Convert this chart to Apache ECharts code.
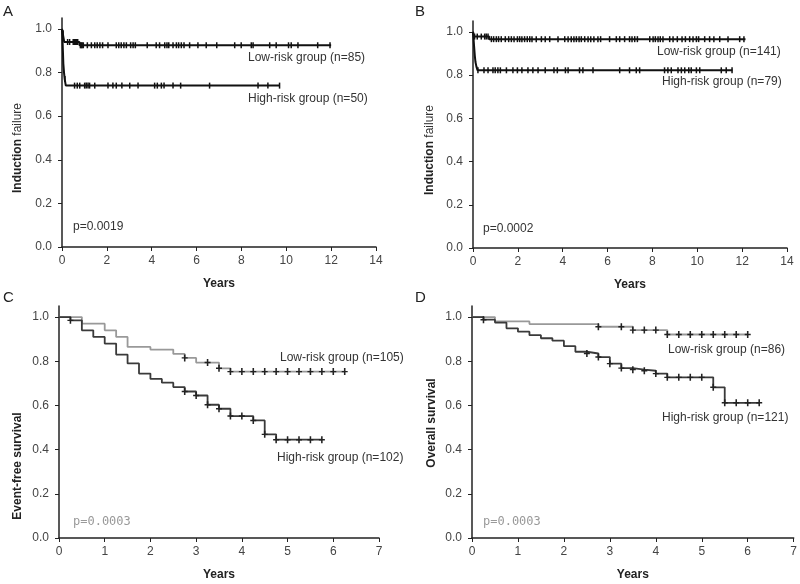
<!DOCTYPE html>
<html>
<head>
<meta charset="utf-8">
<script src="https://cdn.jsdelivr.net/npm/echarts@6/dist/echarts.min.js"></script>
<style>
  html, body { margin: 0; padding: 0; background: #fff; }
  #chart { width: 800px; height: 584px; }
</style>
</head>
<body>
<div id="chart"></div>
<script>
// ---- data ----
// panel A: induction failure
const aLowTimes = [0, 0.03, 0.1, 0.78, 12.0];
const aLowSurv = [1.0, 0.98, 0.94, 0.925, 0.925];
const aLowCensor = [0.05, 0.25, 0.34, 0.5, 0.55, 0.6, 0.65, 0.7, 0.82, 0.86, 0.9, 0.95, 1.13, 1.31, 1.46, 1.57, 1.69, 1.81, 2.05, 2.42, 2.53, 2.64, 2.76, 2.87, 3.06, 3.17, 3.27, 3.8, 4.2, 4.35, 4.58, 4.68, 4.76, 4.95, 5.1, 5.2, 5.32, 5.44, 5.69, 6.06, 6.43, 6.9, 7.7, 7.99, 8.44, 8.52, 9.26, 9.55, 10.1, 10.22, 10.52, 11.4, 11.95];
const aHighTimes = [0, 0.02, 0.04, 0.06, 0.09, 0.12, 0.17, 9.72];
const aHighSurv = [1.0, 0.96, 0.9, 0.84, 0.8, 0.77, 0.74, 0.74];
const aHighCensor = [0.13, 0.56, 0.68, 0.79, 1.01, 1.08, 1.16, 1.23, 1.46, 2.05, 2.27, 2.42, 2.67, 3.02, 3.39, 4.13, 4.25, 4.43, 4.55, 4.95, 5.29, 6.58, 8.74, 9.18, 9.7];

// panel B: induction failure
const bLowTimes = [0, 0.04, 0.72, 12.15];
const bLowSurv = [1.0, 0.978, 0.966, 0.966];
const bLowCensor = [0.07, 0.19, 0.37, 0.52, 0.59, 0.67, 0.82, 0.92, 1.04, 1.14, 1.26, 1.44, 1.59, 1.71, 1.83, 1.98, 2.08, 2.18, 2.3, 2.42, 2.53, 2.63, 2.82, 3.05, 3.22, 3.42, 3.79, 4.09, 4.24, 4.38, 4.5, 4.61, 4.73, 4.83, 4.98, 5.13, 5.25, 5.39, 5.57, 5.69, 6.09, 6.39, 6.54, 6.76, 6.98, 7.09, 7.21, 7.33, 7.88, 8.03, 8.13, 8.25, 8.35, 8.47, 8.77, 8.92, 9.11, 9.32, 9.47, 9.66, 9.81, 9.96, 10.06, 10.33, 10.55, 10.74, 11.0, 11.37, 11.89, 12.08];
const bHighTimes = [0, 0.03, 0.05, 0.08, 0.11, 0.15, 0.2, 11.57];
const bHighSurv = [1.0, 0.96, 0.93, 0.89, 0.86, 0.84, 0.822, 0.822];
const bHighCensor = [0.22, 0.49, 0.67, 0.89, 0.99, 1.11, 1.22, 1.49, 1.78, 1.98, 2.18, 2.45, 2.67, 2.9, 3.22, 3.61, 3.76, 4.12, 4.24, 4.75, 4.9, 5.35, 6.54, 6.98, 7.28, 7.43, 8.54, 8.69, 8.84, 9.14, 9.29, 9.44, 9.62, 9.73, 9.96, 10.11, 11.07, 11.29, 11.55];

// panel C: event-free survival
const cLowTimes = [0, 0.5, 1.0, 1.25, 1.5, 2.0, 2.5, 2.75, 3.0, 3.5, 3.75, 6.25];
const cLowSurv = [1.0, 0.97, 0.94, 0.91, 0.865, 0.853, 0.833, 0.815, 0.794, 0.768, 0.753, 0.753];
const cLowCensor = [2.75, 3.25, 3.5, 3.75, 4.0, 4.25, 4.5, 4.75, 5.0, 5.25, 5.5, 5.75, 6.0, 6.25];
const cHighTimes = [0, 0.25, 0.5, 0.75, 1.0, 1.25, 1.5, 1.75, 2.0, 2.25, 2.5, 2.75, 3.0, 3.25, 3.5, 3.75, 4.25, 4.5, 4.75, 5.75];
const cHighSurv = [1.0, 0.985, 0.94, 0.91, 0.88, 0.83, 0.79, 0.744, 0.72, 0.703, 0.683, 0.663, 0.645, 0.603, 0.585, 0.552, 0.532, 0.469, 0.445, 0.445];
const cHighCensor = [0.25, 2.75, 3.0, 3.25, 3.5, 3.75, 4.0, 4.25, 4.5, 4.75, 5.0, 5.25, 5.5, 5.75];

// panel D: overall survival
const dLowTimes = [0, 0.5, 1.25, 2.75, 3.5, 4.25, 6.0];
const dLowSurv = [1.0, 0.98, 0.968, 0.956, 0.941, 0.921, 0.921];
const dLowCensor = [2.75, 3.25, 3.5, 3.75, 4.0, 4.25, 4.5, 4.75, 5.0, 5.25, 5.5, 5.75, 6.0];
const dHighTimes = [0, 0.25, 0.5, 0.75, 1.0, 1.25, 1.5, 1.75, 2.0, 2.25, 2.5, 2.75, 3.0, 3.25, 3.5, 3.75, 4.0, 4.25, 5.25, 5.5, 6.25];
const dHighSurv = [1.0, 0.988, 0.975, 0.949, 0.934, 0.918, 0.904, 0.893, 0.868, 0.843, 0.835, 0.819, 0.789, 0.769, 0.762, 0.757, 0.744, 0.727, 0.682, 0.612, 0.612];
const dHighCensor = [0.25, 2.5, 2.75, 3.0, 3.25, 3.5, 3.75, 4.0, 4.25, 4.5, 4.75, 5.0, 5.25, 5.5, 5.75, 6.0, 6.25];

const yTicks = [0, 0.2, 0.4, 0.6, 0.8, 1.0];
const xMaxAB = 14, xStepAB = 2;
const xMaxCD = 7, xStepCD = 1;

// ---- helpers ----
const FONT = '"Liberation Sans", Arial, sans-serif';

function km(times, surv) {
  return times.map((t, i) => [t, surv[i]]);
}
function survAt(times, surv, t) {
  let v = surv[0];
  for (let i = 0; i < times.length; i++) {
    if (times[i] <= t) v = surv[i];
  }
  return v;
}
function censorPts(times, surv, cens) {
  return cens.map(t => [t, survAt(times, surv, t)]);
}

const grids = [
  { left: 62, top: 18, width: 314, height: 229 },
  { left: 473, top: 21, width: 314, height: 227 },
  { left: 59, top: 306, width: 320, height: 232 },
  { left: 472, top: 306, width: 322, height: 232 }
];

function xAxisFor(i, max, step) {
  return {
    type: 'value', gridIndex: i, min: 0, max: max, interval: step,
    name: 'Years', nameLocation: 'middle', nameGap: 31,
    nameTextStyle: { fontFamily: FONT, fontSize: 12, fontWeight: 'bold', color: '#222' },
    axisLine: { lineStyle: { color: '#222', width: 1.5 } },
    axisTick: { length: 4, lineStyle: { color: '#222', width: 1 } },
    axisLabel: { margin: 8, fontFamily: FONT, fontSize: 12, color: '#444' },
    splitLine: { show: false }
  };
}
function yAxisFor(i) {
  return {
    type: 'value', gridIndex: i, min: 0, max: 1.05, interval: 0.2,
    axisLine: { show: true, lineStyle: { color: '#222', width: 1.5 } },
    axisTick: { show: true, length: 4, customValues: yTicks, lineStyle: { color: '#222', width: 1 } },
    axisLabel: {
      margin: 10, fontFamily: FONT, fontSize: 12, color: '#444',
      customValues: yTicks,
      formatter: v => v.toFixed(1)
    },
    splitLine: { show: false }
  };
}

const tickMark = 'path://M0,0H2V10H0Z';
const plusMark = 'path://M2,0H3.4V7H2Z M0,2.8H5.4V4.2H0Z';

function curve(i, times, surv, color, w) {
  return {
    type: 'line', xAxisIndex: i, yAxisIndex: i, step: 'end',
    showSymbol: false, data: km(times, surv),
    lineStyle: { color: color, width: w }, silent: true
  };
}
function marks(i, times, surv, cens, symbol, size, color) {
  return {
    type: 'scatter', xAxisIndex: i, yAxisIndex: i,
    symbol: symbol, symbolSize: size,
    itemStyle: { color: color, opacity: 1 },
    data: censorPts(times, surv, cens), silent: true, z: 3
  };
}

function txt(x, y, text, extra) {
  return {
    type: 'text', x: x, y: y, silent: true,
    style: Object.assign({
      text: text, font: '12px ' + FONT, fill: '#333',
      textAlign: 'left', textVerticalAlign: 'middle'
    }, extra || {})
  };
}
function yName(x, y, text, rich) {
  return {
    type: 'text', x: x, y: y, rotation: Math.PI / 2, silent: true,
    style: {
      text: text, font: 'bold 12px ' + FONT, fill: '#222',
      textAlign: 'center', textVerticalAlign: 'middle',
      rich: rich
    }
  };
}

const failRich = {
  b: { fontFamily: FONT, fontSize: 12, fontWeight: 'bold', fill: '#222' },
  n: { fontFamily: FONT, fontSize: 12, fontWeight: 'normal', fill: '#333' }
};
const mono = { font: '12px "DejaVu Sans Mono", monospace', fill: '#999' };
const letter = { font: '15px ' + FONT, fill: '#222' };

const chart = echarts.init(document.getElementById('chart'), null, { renderer: 'canvas' });
chart.setOption({
  backgroundColor: '#fff',
  animation: false,
  grid: grids,
  xAxis: [
    xAxisFor(0, xMaxAB, xStepAB), xAxisFor(1, xMaxAB, xStepAB),
    xAxisFor(2, xMaxCD, xStepCD), xAxisFor(3, xMaxCD, xStepCD)
  ],
  yAxis: [yAxisFor(0), yAxisFor(1), yAxisFor(2), yAxisFor(3)],
  series: [
    curve(0, aLowTimes, aLowSurv, '#111', 2),
    curve(0, aHighTimes, aHighSurv, '#111', 2),
    marks(0, aLowTimes, aLowSurv, aLowCensor, tickMark, [1.5, 6], '#111'),
    marks(0, aHighTimes, aHighSurv, aHighCensor, tickMark, [1.5, 6], '#111'),

    curve(1, bLowTimes, bLowSurv, '#111', 2),
    curve(1, bHighTimes, bHighSurv, '#111', 2),
    marks(1, bLowTimes, bLowSurv, bLowCensor, tickMark, [1.5, 6], '#111'),
    marks(1, bHighTimes, bHighSurv, bHighCensor, tickMark, [1.5, 6], '#111'),

    curve(2, cLowTimes, cLowSurv, '#999', 1.8),
    curve(2, cHighTimes, cHighSurv, '#3a3a3a', 1.8),
    marks(2, cLowTimes, cLowSurv, cLowCensor, plusMark, [6, 7], '#222'),
    marks(2, cHighTimes, cHighSurv, cHighCensor, plusMark, [6, 7], '#222'),

    curve(3, dLowTimes, dLowSurv, '#999', 1.8),
    curve(3, dHighTimes, dHighSurv, '#3a3a3a', 1.8),
    marks(3, dLowTimes, dLowSurv, dLowCensor, plusMark, [6, 7], '#222'),
    marks(3, dHighTimes, dHighSurv, dHighCensor, plusMark, [6, 7], '#222')
  ],
  graphic: [
    txt(3, 12, 'A', letter),
    txt(415, 12, 'B', letter),
    txt(3, 298, 'C', letter),
    txt(415, 298, 'D', letter),

    yName(18, 148, '{b|Induction} {n|failure}', failRich),
    yName(430, 150, '{b|Induction} {n|failure}', failRich),
    yName(18, 466, 'Event-free survival'),
    yName(432, 423, 'Overall survival'),

    txt(248, 58, 'Low-risk group (n=85)'),
    txt(248, 99, 'High-risk group (n=50)'),
    txt(657, 52, 'Low-risk group (n=141)'),
    txt(662, 82, 'High-risk group (n=79)'),
    txt(280, 358, 'Low-risk group (n=105)'),
    txt(277, 458, 'High-risk group (n=102)'),
    txt(668, 350, 'Low-risk group (n=86)'),
    txt(662, 418, 'High-risk group (n=121)'),

    txt(73, 227, 'p=0.0019'),
    txt(483, 229, 'p=0.0002'),
    txt(73, 522, 'p=0.0003', mono),
    txt(483, 522, 'p=0.0003', mono)
  ]
});
</script>
</body>
</html>
